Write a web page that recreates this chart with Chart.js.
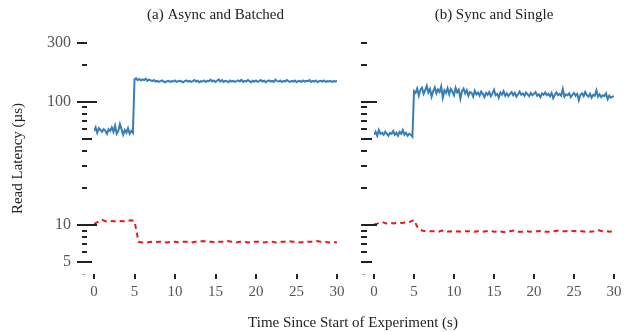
<!DOCTYPE html>
<html>
<head>
<meta charset="utf-8">
<script src="https://cdn.jsdelivr.net/npm/chart.js@4/dist/chart.umd.min.js"></script>
<style>
  body { margin: 0; background: #fff; }
  #wrap { position: relative; width: 632px; height: 332px; }
  #left { position: absolute; left: 0; top: 0; }
  #right { position: absolute; left: 350px; top: 0; }
  #xtitle { position: absolute; left: 153px; top: 313px; width: 400px; text-align: center;
            font: 15px "Liberation Serif"; line-height: 18px; color: #222; }
</style>
</head>
<body>
<div id="wrap">
  <canvas id="left" width="350" height="332"></canvas>
  <canvas id="right" width="282" height="332"></canvas>
  <div id="xtitle">Time Since Start of Experiment (s)</div>
</div>
<script>
// panel titles
const panelTitles = ['(a) Async and Batched', '(b) Sync and Single'];

// y ticks (log scale, µs)
const yLabelTicks = [5, 10, 100, 300];
const yMinorTicks = [6, 7, 8, 9, 20, 30, 40, 50, 60, 70, 80, 90, 200];

// read latency, blue = top line, sampled every 0.2 s from 0 to 30 s
const blueAsync = [
  58, 62, 56, 61, 59, 57, 60, 58, 55, 60, 58, 62, 57, 64, 55, 58, 66, 60, 54, 59, 56, 61, 55, 58, 56,
  152, 155, 150, 153, 149, 152, 150, 154, 148, 151, 149, 147, 150,
  146, 148, 145, 147, 149, 146, 144, 147, 148, 145,
  147, 146, 149, 145, 147, 148, 146, 144, 147, 149,
  146, 148, 145, 147, 150, 146, 148, 144, 147, 146,
  149, 145, 148, 147, 151, 146, 149, 145, 148, 152,
  146, 150, 145, 148, 147, 144, 149, 146, 148, 145,
  147, 149, 146, 151, 145, 148, 146, 150, 147, 144,
  148, 146, 149, 145, 147, 150, 146, 148, 144, 147,
  149, 146, 148, 145, 151, 147, 146, 149, 145, 148,
  146, 150, 147, 145, 148, 146, 149, 144, 147, 148,
  145, 149, 146, 148, 147, 150, 145, 148, 146, 149,
  144, 147, 148, 146, 149, 145, 147, 146, 148, 145,
  147, 146, 148
];
const blueSync = [
  54, 57, 53, 59, 55, 56, 54, 57, 55, 53, 56, 55, 58, 54, 56, 53, 57, 55, 59, 54, 56, 53, 55, 54, 52,
  122, 118, 128, 112, 125, 130, 116, 124, 135, 119,
  127, 110, 122, 131, 117, 126, 120, 133, 108, 124,
  118, 129, 115, 127, 121, 113, 130, 119, 125, 106,
  122, 128, 117, 124, 112, 120,
  118, 110, 123, 115, 119, 112, 121, 116, 109, 118,
  114, 120, 111, 117, 125, 113, 116, 108, 119, 114,
  122, 112, 117, 111, 116, 120, 113, 118, 110, 115,
  121, 114, 117, 112, 119, 115, 111, 118, 113, 116,
  120, 112, 115, 109, 117, 114, 119, 113, 116, 111,
  118, 107, 114, 119, 113, 116, 112, 127, 110, 115,
  113, 117, 109, 114, 118, 112, 116, 103, 114, 117,
  111, 120, 113, 110, 116, 108, 114, 112, 124, 110,
  115, 109, 113, 111, 117, 105, 112, 108, 110, 111
];

// red dashed line, sampled every 0.5 s from 0 to 30 s
const redAsync = [
  10.2, 10.6, 11.0, 10.7, 10.8, 10.7, 10.8, 10.7, 10.7, 10.9, 10.8,
  7.3, 7.2, 7.2, 7.3, 7.2, 7.3, 7.3, 7.2, 7.3, 7.3,
  7.2, 7.3, 7.3, 7.2, 7.3, 7.3, 7.4, 7.3, 7.3, 7.2,
  7.3, 7.3, 7.4, 7.3, 7.2, 7.3, 7.3, 7.2, 7.3, 7.3,
  7.3, 7.2, 7.3, 7.3, 7.2, 7.3, 7.3, 7.4, 7.3, 7.3,
  7.2, 7.3, 7.3, 7.3, 7.4, 7.3, 7.3, 7.2, 7.3, 7.2
];
const redSync = [
  10.1, 10.3, 10.6, 10.3, 10.4, 10.3, 10.5, 10.4, 10.5, 10.6, 11.0, 9.4,
  9.0, 8.9, 8.9, 8.9, 8.8, 9.0, 8.8, 8.9, 8.8, 8.9,
  8.8, 8.9, 8.9, 8.8, 8.9, 8.8, 8.9, 9.0, 8.8, 8.9,
  8.8, 8.7, 8.9, 9.0, 8.8, 8.8, 8.9, 8.8, 8.9, 8.9,
  9.0, 8.8, 8.8, 8.9, 9.0, 8.9, 8.9, 9.0, 8.9, 9.0,
  8.9, 8.8, 8.8, 8.9, 9.1, 8.9, 8.9, 8.8, 9.0
];

const blueStep = 0.2;
const redStep = 0.5;

Chart.defaults.font.family = '"Liberation Serif", serif';
Chart.defaults.font.size = 15;
Chart.defaults.color = '#555';

function points(vals, step) {
  return vals.map((v, i) => ({ x: Math.round(i * step * 10) / 10, y: v }));
}

// draws the little axis tick marks off the scales
const tickMarks = {
  id: 'tickMarks',
  afterDraw(chart, args, o) {
    const ctx = chart.ctx;
    const y = chart.scales.y, x = chart.scales.x;
    const left = chart.chartArea.left, bottom = chart.chartArea.bottom;
    ctx.save();
    ctx.strokeStyle = '#222';
    ctx.lineWidth = 2;
    const all = yLabelTicks.concat(yMinorTicks);
    all.forEach(v => {
      const py = Math.round(y.getPixelForValue(v));
      let x0 = left - o.minorStart;
      if (o.labels && yLabelTicks.includes(v)) x0 = left - 17;
      let x1 = left - 7;
      if (v === 5 || v === 50) x1 = left - 2;
      if (v === 10 || v === 100) x1 = left + 3;
      ctx.beginPath();
      ctx.moveTo(x0, py);
      ctx.lineTo(x1, py);
      ctx.stroke();
    });
    // faint tick at the bottom value
    ctx.strokeStyle = '#aaa';
    ctx.lineWidth = 1;
    ctx.beginPath();
    ctx.moveTo(left - 12, bottom + 0.5);
    ctx.lineTo(left - 9, bottom + 0.5);
    ctx.stroke();
    ctx.strokeStyle = '#222';
    ctx.lineWidth = 2;
    x.ticks.forEach(t => {
      const px = Math.round(x.getPixelForValue(t.value));
      ctx.beginPath();
      ctx.moveTo(px, bottom);
      ctx.lineTo(px, bottom + 5);
      ctx.stroke();
    });
    ctx.restore();
  }
};

function makeChart(id, title, blue, red, opts) {
  return new Chart(document.getElementById(id), {
    type: 'line',
    data: {
      datasets: [
        { data: points(blue, blueStep), borderColor: '#377eb8', borderWidth: 2, pointRadius: 0 },
        { data: points(red, redStep), borderColor: '#e41a1c', borderWidth: 2, borderDash: [5, 4], pointRadius: 0 }
      ]
    },
    options: {
      responsive: false,
      animation: false,
      layout: { padding: { top: 6, right: opts.right, left: 0, bottom: 0 } },
      plugins: {
        legend: { display: false },
        tooltip: { enabled: false },
        title: {
          display: true, text: title, fullSize: false, color: '#222',
          font: { size: 15, weight: 'normal' }, padding: { top: 0, bottom: 19 }
        },
        tickMarks: { labels: opts.labels, minorStart: opts.minorStart }
      },
      scales: {
        x: {
          type: 'linear', min: 0, max: 30,
          ticks: { stepSize: 5, padding: 3, color: '#555', maxRotation: 0 },
          grid: { display: true, drawOnChartArea: false, drawTicks: true, tickLength: 6, color: 'transparent' },
          border: { display: false },
          afterFit: s => { s.height = 58; }
        },
        y: {
          type: 'logarithmic', min: 4, max: 300,
          afterBuildTicks: s => { s.ticks = yLabelTicks.map(v => ({ value: v })); },
          ticks: {
            display: opts.labels, autoSkip: false, padding: 3, color: '#555',
            font: { size: 16 },
            callback: v => String(v)
          },
          grid: { display: true, drawOnChartArea: false, drawTicks: true, tickLength: 20, color: 'transparent' },
          border: { display: false },
          title: {
            display: opts.labels, text: 'Read Latency (µs)', color: '#222',
            font: { size: 15 }, padding: { top: 9, bottom: 0 }
          },
          afterFit: s => { s.width = opts.yWidth; }
        }
      }
    },
    plugins: [tickMarks]
  });
}

makeChart('left', panelTitles[0], blueAsync, redAsync, { right: 13, labels: true, minorStart: 12, yWidth: 94 });
makeChart('right', panelTitles[1], blueSync, redSync, { right: 18, labels: false, minorStart: 13, yWidth: 24 });
</script>
</body>
</html>
